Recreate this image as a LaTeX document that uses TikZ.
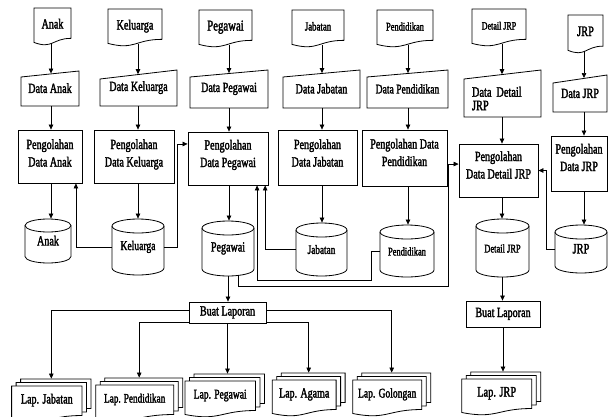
\documentclass[tikz,border=0pt]{standalone}
\usepackage{fontspec}
\setmainfont[FakeStretch=0.72,FakeBold=2]{Liberation Serif}
\usetikzlibrary{arrows.meta,calc}
% document shape: cx cy hw hh
\newcommand\docpath[4]{\draw[fill=white] ({#1-#3},{#2-#4}) -- ({#1+#3},{#2-#4}) -- ({#1+#3},{#2+0.64*#4}) .. controls ({#1},{#2+0.64*#4}) and ({#1},{#2+1.24*#4}) .. ({#1-#3},{#2+0.86*#4}) -- cycle;}
% single document: opts name cx cy hw hh text
\newcommand\mkdoc[7][]{\docpath{#3}{#4}{#5}{#6}%
  \node[lbl,text depth=5pt,minimum width={2*#5},minimum height={2*#6},#1] (#2) at ({#3},{#4}) {#7};}
% manual input: opts name cx cy hw hh slant text
\newcommand\mkin[8][]{\draw ({#3-#5},{#4+#6}) -- ({#3+#5},{#4+#6}) -- ({#3+#5},{#4-#6}) -- ({#3-#5},{#4-#6+#7}) -- cycle;%
  \node[lbl,minimum width={2*#5},minimum height={2*#6},#1] (#2) at ({#3},{#4}) {#8};}
% process: opts name cx cy w h text
\newcommand\mkproc[7][]{\node[lbl,draw,text height=26.5pt,text depth=8pt,minimum width=#5,minimum height=#6,#1] (#2) at ({#3},{#4}) {#7};}
% cylinder: opts name cx cy rx hh ry text
\newcommand\mkcyl[8][]{\draw ({#3-#5},{#4-#6+#7}) -- ({#3-#5},{#4+#6-#7}) arc[start angle=180,end angle=360,x radius=#5pt,y radius=#7pt] -- ({#3+#5},{#4-#6+#7});%
  \draw ({#3},{#4-#6+#7}) ellipse[x radius=#5pt,y radius=#7pt];%
  \node[lbl,minimum width={2*#5},minimum height={2*#6},#1] (#2) at ({#3},{#4}) {#8};}
% multi document: opts name cx top hw hh text
\newcommand\mkmdoc[7][]{\docpath{#3+9}{#4+#6-7}{#5}{#6}\docpath{#3+4.5}{#4+#6-3.5}{#5}{#6}\docpath{#3}{#4+#6}{#5}{#6}%
  \node[inner sep=0pt,minimum width={2*#5},minimum height={2*#6}] (#2b) at ({#3+9},{#4+#6-7}) {};%
  \node[inner sep=0pt,minimum width={2*#5},minimum height={2*#6}] (#2m) at ({#3+4.5},{#4+#6-3.5}) {};%
  \node[lbl,text depth=10pt,minimum width={2*#5},minimum height={2*#6},#1] (#2) at ({#3},{#4+#6}) {#7};}
\begin{document}
\begin{tikzpicture}[x=1pt,y=-1pt,line width=0.8pt,
  lbl/.style={inner sep=0pt,align=center,text height=9pt,font=\fontsize{14}{17.5}\selectfont},
  arr/.style={-{Triangle[length=5pt,width=4.5pt]},line width=0.7pt},
  fs/.style={font=\fontsize{#1}{#1}\selectfont}]
\useasboundingbox (0,0) rectangle (608,416);
\clip (0,0) rectangle (608,416);
% columns
\coordinate (colA) at (51,0);
\coordinate (colK) at (138,0);
\coordinate (colP) at (229,0);
\coordinate (colJ) at (322,0);
\coordinate (colN) at (408,0);
\coordinate (colD) at (502,0);
\coordinate (colR) at (584,0);
% source documents
\mkdoc{dAnak}{52.5}{26.5}{18.5}{18.5}{Anak}
\mkdoc{dKel}{135}{27.5}{27}{18.5}{Keluarga}
\mkdoc[fs=15]{dPeg}{225.5}{28.5}{26.5}{18.5}{Pegawai}
\mkdoc[fs=12.2]{dJab}{318}{28.5}{26}{18.5}{Jabatan}
\mkdoc[fs=11.7]{dPend}{405}{28.5}{28}{18.5}{Pendidikan}
\mkdoc[fs=11.1]{dDet}{499}{27.5}{27}{18.5}{Detail JRP}
\mkdoc[fs=14.4]{dJRP}{585.5}{34}{17.5}{19}{JRP}
% manual inputs
\mkin{iAnak}{50}{88.5}{29}{17.5}{6}{Data Anak}
\mkin{iKel}{138.5}{88}{38.5}{18}{9}{Data Keluarga}
\mkin{iPeg}{229}{89}{39}{19}{7}{Data Pegawai}
\mkin{iJab}{321.5}{89}{38.5}{19}{7}{Data Jabatan}
\mkin[fs=13.3]{iPend}{407.5}{89}{40.5}{19}{7}{Data Pendidikan}
\mkin[align=left,text width=61pt,text height=9pt,text depth=2.6pt,font=\fontsize{14.4}{13.5}\selectfont]{iDet}{502.5}{93.5}{38.5}{23.5}{9}{Data Detail\\JRP}
\mkin{iJRP}{580}{93.5}{27}{18.5}{8}{Data JRP}
% processes
\mkproc[text depth=6.5pt]{pAnak}{50}{156.5}{64}{53}{Pengolahan\\Data Anak}
\mkproc[text depth=6.5pt]{pKel}{134}{156.5}{80}{53}{Pengolahan\\Data Keluarga}
\mkproc[text depth=9.5pt]{pPeg}{228}{158.5}{80}{53}{Pengolahan\\Data Pegawai}
\mkproc[text depth=8.5pt]{pJab}{317.5}{157.5}{79}{55}{Pengolahan\\Data Jabatan}
\mkproc[text depth=10.5pt]{pPend}{404.5}{158}{85}{56}{Pengolahan Data\\Pendidikan}
\mkproc[text depth=10.5pt]{pDet}{498.5}{170.5}{79}{53}{Pengolahan\\Data Detail JRP}
\mkproc[text depth=11.5pt]{pJRP}{579}{163.5}{56}{55}{Pengolahan\\Data JRP}
% data stores
\mkcyl{cAnak}{48}{241}{23}{22}{6.5}{Anak}
\mkcyl[fs=13.3]{cKel}{138}{247}{26}{28}{7}{Keluarga}
\mkcyl{cPeg}{228}{248.5}{26}{27.5}{7}{Pegawai}
\mkcyl[fs=12.8]{cJab}{321.5}{249.5}{25.5}{26.5}{7}{Jabatan}
\mkcyl[fs=11.7]{cPend}{407}{251}{27}{26}{7}{Pendidikan}
\mkcyl[fs=11.7]{cDet}{502.5}{248}{26.5}{29}{7}{Detail JRP}
\mkcyl[fs=14.4]{cJRP}{581}{249}{26}{24}{7}{JRP}
% reports
\mkproc[text height=9pt,text depth=3pt]{bl1}{227.5}{312.5}{77}{21}{Buat Laporan}
\mkproc[text height=9pt,text depth=3pt]{bl2}{503}{314}{74}{26}{Buat Laporan}
\mkmdoc{lJab}{46.8}{386}{35.2}{18}{Lap. Jabatan}
\mkmdoc[fs=12.8]{lPend}{134.7}{385}{39}{18}{Lap. Pendidikan}
\mkmdoc[fs=13.3]{lPeg}{220.2}{381}{35.2}{18}{Lap. Pegawai}
\mkmdoc[fs=13.9]{lAg}{304.2}{380}{31.9}{18}{Lap. Agama}
\mkmdoc[fs=13.3]{lGol}{387.2}{380}{34.5}{18}{Lap. Golongan}
\mkmdoc[fs=14.4]{lJRP}{496.7}{379}{35}{18}{Lap. JRP}
% column flows
\foreach \c/\n/\s in {A/Anak/2.9,K/Kel/4.6,P/Peg/3.5,J/Jab/3.5,N/Pend/3.5,D/Det/4.6,R/JRP/3.4}{
  \draw[arr] ($(col\c |- d\n.south)+(0,2pt)$) -- ($(col\c |- i\n.north)+(0,-\s pt)$);
  \draw[arr] (col\c |- i\n.south) -- (col\c |- p\n.north);
  \draw[arr] (col\c |- p\n.south) -- (col\c |- c\n.north);
}
% helper points
\coordinate (aIn) at ($(pAnak.south west)!0.9!(pAnak.south east)$);
\coordinate (kx) at ($(pKel.east)+(3pt,0)$);
\coordinate (pegIn) at ($(pPeg.north west)!0.23!(pPeg.south west)$);
\coordinate (pegB1) at ($(pPeg.south west)!0.96!(pPeg.south east)$);
\coordinate (pegB2) at ($(pPeg.south west)!0.86!(pPeg.south east)$);
\coordinate (nx) at ($(cPend.west)+(-8pt,0)$);
\coordinate (ny) at ($(cJab.south)+(0,-4pt)$);
\coordinate (gs) at ($(cPeg.south)+(10pt,1.5pt)$);
\coordinate (gy) at ($(cPeg.south)+(0,-10pt)$);
\coordinate (gx) at ($(pDet.west)+(-10pt,0)$);
\coordinate (detIn) at ($(pDet.north west)!0.38!(pDet.south west)$);
\coordinate (jx) at ($(cJRP.west)+(-8pt,0)$);
% cross connectors
\draw[arr] (cKel.west) -| (aIn);
\draw[arr] (cKel.east) -| (kx |- pegIn) -- (pegIn);
\draw[arr] (cJab.west) -| (pegB1);
\draw[arr] (cPend.west) -- (nx) -- (nx |- ny) -- (pegB2 |- ny) -- (pegB2);
\draw[arr] (gs) -- (gs |- gy) -- (gx |- gy) -- (gx |- detIn) -- (detIn);
\draw[arr] (cJRP.west) -- (jx) |- (pDet.east);
\draw[arr] (cPeg.south) -- (cPeg.south |- bl1.north);
\draw[arr] (cDet.south) -- (cDet.south |- bl2.north);
% report connectors
\draw[arr] ($(bl1.north west)!0.41!(bl1.south west)$) -| (lJabm.north |- lJabb.north);
\draw[arr] ($(bl1.north west)!0.93!(bl1.south west)$) -| (lPendm.north |- lPendb.north);
\draw[arr] (bl1.south) -- (bl1.south |- lPegb.north);
\draw[arr] ($(bl1.north east)!0.93!(bl1.south east)$) -| (lAgm.north |- lAgb.north);
\draw[arr] ($(bl1.north east)!0.41!(bl1.south east)$) -| (lGolm.north |- lGolb.north);
\draw[arr] (bl2.south) -- (bl2.south |- lJRPb.north);
\end{tikzpicture}
\end{document}
